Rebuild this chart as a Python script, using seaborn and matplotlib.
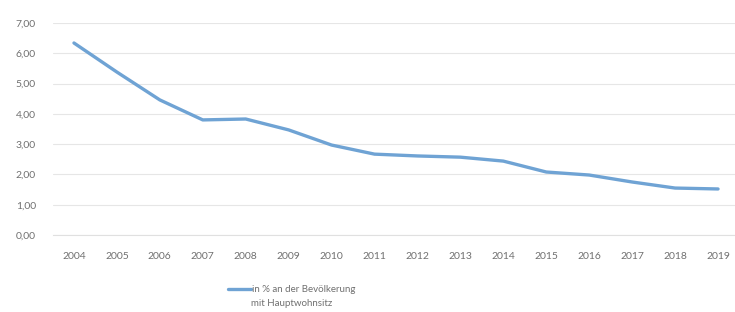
import pandas as pd
import matplotlib.pyplot as plt
import seaborn as sns
from matplotlib.ticker import FuncFormatter

years = list(range(2004, 2020))
anteil = [6.34, 5.38, 4.46, 3.80, 3.83, 3.47, 2.97, 2.67, 2.61, 2.57, 2.44, 2.08, 1.98, 1.75, 1.55, 1.52]
y_ticks = [0, 1, 2, 3, 4, 5, 6, 7]
label_1 = "in % an der Bevölkerung"
label_2 = "mit Hauptwohnsitz"

df = pd.DataFrame({'Jahr': years, 'Anteil': anteil})

sns.set_style("white")
plt.rcParams['font.family'] = ['Lato', 'DejaVu Sans']

fig = plt.figure(figsize=(7.35, 3.12), dpi=100)
ax = fig.add_axes([52.5 / 735, 77 / 312, 687 / 735, 212 / 312])

sns.lineplot(data=df, x='Jahr', y='Anteil', color='#6fa3d4', linewidth=2.4,
             label=label_1, ax=ax, legend=False)

ax.set_xlim(2003.5, 2019.5)
ax.set_ylim(0, 7)
ax.set_xticks(years)
ax.set_yticks(y_ticks)
ax.yaxis.set_major_formatter(FuncFormatter(lambda v, p: f"{v:.2f}".replace('.', ',')))
ax.grid(axis='y', color='#e6e6e6', linewidth=0.8)
ax.set_axisbelow(True)
for s in ax.spines.values():
    s.set_visible(False)
ax.spines['bottom'].set_visible(True)
ax.spines['bottom'].set_color('#e0e0e0')
ax.tick_params(axis='both', length=0, labelsize=7.5, labelcolor='#707070')
ax.tick_params(axis='x', pad=12)
ax.tick_params(axis='y', pad=12)
ax.set_xlabel("")
ax.set_ylabel("")

leg = fig.legend(*ax.get_legend_handles_labels(), loc='center',
                 bbox_to_anchor=(292 / 735, 1 - 290 / 312), frameon=False,
                 fontsize=7, handlelength=2.4, handletextpad=0.1,
                 borderpad=0)
for t in leg.get_texts():
    t.set_color('#707070')
fig.text(292 / 735, 1 - 304 / 312, label_2, ha='center', va='center',
         fontsize=7, color='#707070')

fig.savefig("out.png", dpi=100)
